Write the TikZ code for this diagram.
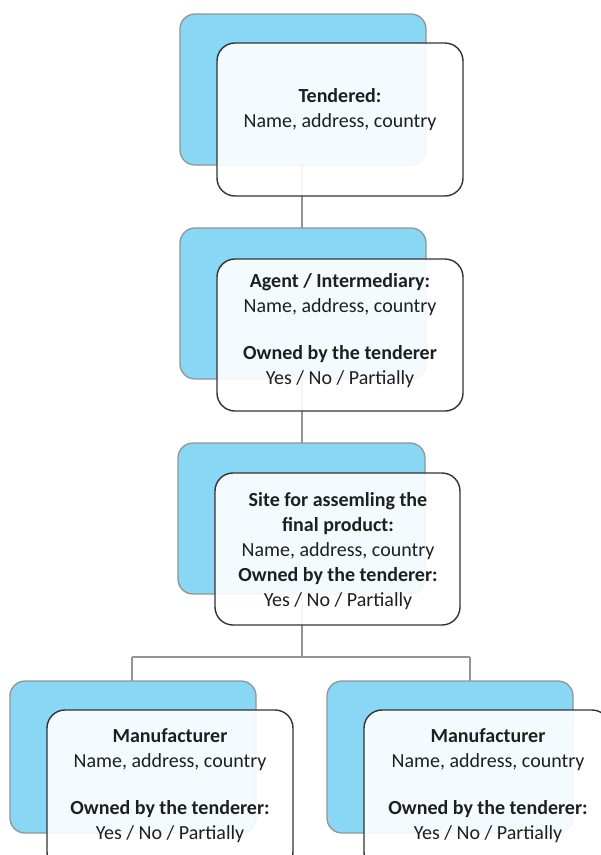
\documentclass[tikz,border=0pt]{standalone}
\usepackage{fontspec}
\setmainfont{Carlito}
\begin{document}
\begin{tikzpicture}[x=1pt,y=-1pt,
  back/.style={draw=black!42,line width=1.3pt,fill=skyfill,rounded corners=15pt},
  front/.style={draw=black!80,line width=1.4pt,fill=white,fill opacity=0.9,draw opacity=1,rounded corners=18pt},
  txt/.style={align=center,text=black!88,font=\fontsize{20}{25}\selectfont,inner sep=0pt},
  link/.style={draw=black!42,line width=1.4pt}]
\definecolor{skyfill}{HTML}{87D7F5}
\useasboundingbox (0,0) rectangle (601,855);
% connectors (behind)
\coordinate (c1) at (302,120);
\coordinate (c2) at (302,335);
\coordinate (c3) at (302,550);
\coordinate (hj) at (302,657);
\coordinate (lj) at (132,657);
\coordinate (rj) at (470,657);
\coordinate (lb) at (132,760);
\coordinate (rb) at (470,760);
\draw[link] (c1) -- (c2) -- (c3) -- (hj);
\draw[link] (lj) -- (rj);
\draw[link] (lj) -- (lb);
\draw[link] (rj) -- (rb);
% box 1
\path[back] (180,14) rectangle (426,165);
\path[front] (217,43) rectangle (463,196);
\node[txt] (t1) at (340,110) {\textbf{Tendered:}\\Name, address, country};
% box 2
\path[back] (180,228) rectangle (426,379);
\path[front] (217,259) rectangle (463,411);
\node[txt] (t2) at (340,331) {\textbf{Agent / Intermediary:}\\Name, address, country\\[22pt]\textbf{Owned by the tenderer}\\Yes / No / Partially};
% box 3
\path[back] (178,443) rectangle (425,594);
\path[front] (215,473) rectangle (460,625);
\node[txt] (t3) at (338,551) {\textbf{Site for assemling the}\\\textbf{final product:}\\Name, address, country\\\textbf{Owned by the tenderer:}\\Yes / No / Partially};
% bottom left
\path[back] (10,681) rectangle (256,833);
\path[front] (47,710) rectangle (293,870);
\node[txt] (t4) at (170,786) {\textbf{Manufacturer}\\Name, address, country\\[22pt]\textbf{Owned by the tenderer:}\\Yes / No / Partially};
% bottom right
\path[back] (327,681) rectangle (573,833);
\path[front] (364,710) rectangle (610,870);
\node[txt] (t5) at (488,786) {\textbf{Manufacturer}\\Name, address, country\\[22pt]\textbf{Owned by the tenderer:}\\Yes / No / Partially};
\end{tikzpicture}
\end{document}
